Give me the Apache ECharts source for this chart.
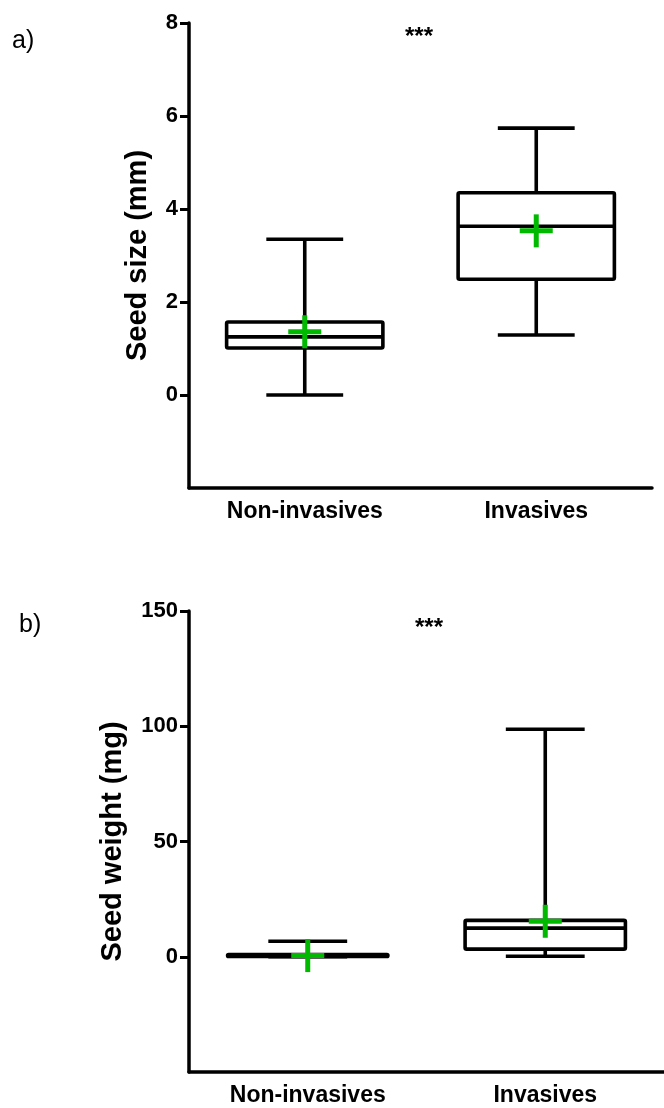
<!DOCTYPE html>
<html>
<head>
<meta charset="utf-8">
<script src="https://cdn.jsdelivr.net/npm/echarts@6/dist/echarts.min.js"></script>
<style>
html,body{margin:0;padding:0;background:#fff;}
#chart{width:664px;height:1108px;}
</style>
</head>
<body>
<div id="chart"></div>
<script>
// ---- data ----
const categories = ['Non-invasives', 'Invasives'];
// [min, Q1, median, Q3, max]
const sizeStats = [[0.0, 1.01, 1.25, 1.57, 3.35], [1.29, 2.49, 3.63, 4.35, 5.74]];
const sizeMeans = [1.36, 3.53];
const weightStats = [[0.02, 0.1, 0.3, 1.0, 6.7], [0.2, 3.3, 12.4, 15.8, 98.7]];
const weightMeans = [0.5, 15.4];
const sizeTicks = [0, 2, 4, 6, 8];
const weightTicks = [0, 50, 100, 150];
const sizeRange = [-2, 8];
const weightRange = [-50, 150];
const panelLabels = ['a)', 'b)'];
const signif = ['***', '***'];
const yTitles = ['Seed size (mm)', 'Seed weight (mg)'];

// ---- style ----
const FONT = '"Liberation Sans", Arial, sans-serif';
const BLACK = '#000';
const GREEN = '#00b900';

function buildRows(stats, means) {
  return categories.map((c, i) => [i].concat(stats[i]).concat([means[i]]));
}

function renderBox(params, api) {
  const x = api.value(0);
  const mn = api.value(1), q1 = api.value(2), md = api.value(3), q3 = api.value(4), mx = api.value(5), mean = api.value(6);
  const band = api.size([1, 0])[0];
  const hb = band * 0.3375, hc = band * 0.166;
  const pc = (v) => api.coord([x, v]);
  const cx = pc(md)[0];
  const yMin = pc(mn)[1], yQ1 = pc(q1)[1], yMd = pc(md)[1], yQ3 = pc(q3)[1], yMx = pc(mx)[1];
  const pm = pc(mean);
  const ls = { stroke: BLACK, lineWidth: 3.6, lineJoin: 'round', lineCap: 'butt', fill: null };
  const plusHalf = 16.5;
  return {
    type: 'group',
    children: [
      { type: 'line', shape: { x1: cx, y1: yQ3, x2: cx, y2: yMx }, style: ls },
      { type: 'line', shape: { x1: cx, y1: yQ1, x2: cx, y2: yMin }, style: ls },
      { type: 'line', shape: { x1: cx - hc, y1: yMx, x2: cx + hc, y2: yMx }, style: ls },
      { type: 'line', shape: { x1: cx - hc, y1: yMin, x2: cx + hc, y2: yMin }, style: ls },
      { type: 'rect', shape: { x: cx - hb, y: yQ3, width: 2 * hb, height: Math.max(yQ1 - yQ3, 0.5), r: 1.5 }, style: { stroke: BLACK, lineWidth: 3.6, lineJoin: 'round', fill: '#fff' } },
      { type: 'line', shape: { x1: cx - hb, y1: yMd, x2: cx + hb, y2: yMd }, style: ls },
      { type: 'line', shape: { x1: pm[0] - plusHalf, y1: pm[1], x2: pm[0] + plusHalf, y2: pm[1] }, style: { stroke: GREEN, lineWidth: 5 } },
      { type: 'line', shape: { x1: pm[0], y1: pm[1] - plusHalf, x2: pm[0], y2: pm[1] + plusHalf }, style: { stroke: GREEN, lineWidth: 5 } }
    ]
  };
}

function xAxisCfg(gridIndex) {
  return {
    type: 'category', gridIndex, data: categories,
    axisLine: { onZero: false, lineStyle: { color: BLACK, width: 3.5 } },
    axisTick: { alignWithLabel: true, length: 8, lineStyle: { color: BLACK, width: 3 } },
    axisLabel: { color: BLACK, fontSize: 23, fontWeight: 'bold', fontFamily: FONT, margin: 12 },
    splitLine: { show: false }
  };
}

function yAxisCfg(gridIndex, range, ticks, name, gap) {
  return {
    type: 'value', gridIndex, min: range[0], max: range[1],
    name, nameLocation: 'middle', nameGap: gap,
    nameTextStyle: { color: BLACK, fontSize: 29, fontWeight: 'bold', fontFamily: FONT },
    axisLine: { show: true, onZero: false, lineStyle: { color: BLACK, width: 3.5 } },
    axisTick: { show: true, length: 9, customValues: ticks, lineStyle: { color: BLACK, width: 3 } },
    axisLabel: { color: BLACK, fontSize: 22, fontWeight: 'bold', fontFamily: FONT, margin: 11, customValues: ticks },
    splitLine: { show: false }
  };
}

const chart = echarts.init(document.getElementById('chart'), null, { renderer: 'canvas' });
chart.setOption({
  backgroundColor: '#fff',
  animation: false,
  grid: [
    { left: 189, top: 23, width: 463, height: 465 },
    { left: 189, top: 611, width: 483, height: 461 }
  ],
  xAxis: [xAxisCfg(0), xAxisCfg(1)],
  yAxis: [
    yAxisCfg(0, sizeRange, sizeTicks, yTitles[0], 37),
    yAxisCfg(1, weightRange, weightTicks, yTitles[1], 62)
  ],
  series: [
    { type: 'custom', xAxisIndex: 0, yAxisIndex: 0, renderItem: renderBox, data: buildRows(sizeStats, sizeMeans), encode: { x: 0, y: [1, 2, 3, 4, 5, 6] } },
    { type: 'custom', xAxisIndex: 1, yAxisIndex: 1, renderItem: renderBox, data: buildRows(weightStats, weightMeans), encode: { x: 0, y: [1, 2, 3, 4, 5, 6] } }
  ],
  graphic: [
    { type: 'text', left: 12, top: 29, style: { text: panelLabels[0], font: '25px ' + FONT, fill: BLACK } },
    { type: 'text', left: 19, top: 613, style: { text: panelLabels[1], font: '25px ' + FONT, fill: BLACK } },
    { type: 'text', left: 405, top: 25, style: { text: signif[0], font: 'bold 24px ' + FONT, fill: BLACK } },
    { type: 'text', left: 415, top: 616, style: { text: signif[1], font: 'bold 24px ' + FONT, fill: BLACK } }
  ]
});
</script>
</body>
</html>
